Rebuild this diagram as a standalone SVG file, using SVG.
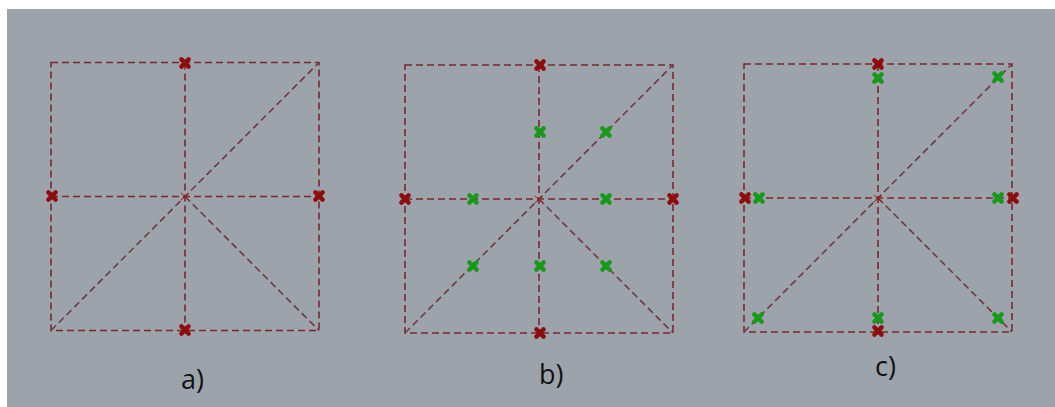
<svg xmlns="http://www.w3.org/2000/svg" width="1055" height="407" viewBox="0 0 1055 407">
<defs>
<style>
.ln{fill:none;stroke:#7a2830;stroke-width:1.6;stroke-dasharray:7 4}
.dg{fill:none;stroke:#6e3a40;stroke-width:1.6;stroke-dasharray:7 4}
.lbl{font-family:"Open Sans","DejaVu Sans",sans-serif;font-size:27px;fill:#111}
</style>
<g id="xr"><path d="M-3.6,-3.6L3.6,3.6M-3.6,3.6L3.6,-3.6" stroke="#8e0c0c" stroke-width="4.4" stroke-linecap="round"/></g>
<g id="xg"><path d="M-3.6,-3.6L3.6,3.6M-3.6,3.6L3.6,-3.6" stroke="#17991a" stroke-width="4.4" stroke-linecap="round"/></g>
</defs>
<rect x="0" y="0" width="1055" height="407" fill="#ffffff"/>
<rect x="7" y="9" width="1048" height="398" fill="#9ca3aa"/>
<g id="connectors">
<rect class="ln" x="51" y="62.5" width="268" height="268"/>
<line class="ln" x1="185" y1="62.5" x2="185" y2="330.5"/>
<line class="ln" x1="51" y1="196.5" x2="319" y2="196.5"/>
<line class="dg" x1="51" y1="330.5" x2="319" y2="62.5"/>
<line class="dg" x1="185" y1="196.5" x2="319" y2="330.5"/>
<rect class="ln" x="405" y="65" width="268" height="268"/>
<line class="ln" x1="539" y1="65" x2="539" y2="333"/>
<line class="ln" x1="405" y1="199" x2="673" y2="199"/>
<line class="dg" x1="405" y1="333" x2="673" y2="65"/>
<line class="dg" x1="539" y1="199" x2="673" y2="333"/>
<rect class="ln" x="744" y="64" width="268" height="268"/>
<line class="ln" x1="878" y1="64" x2="878" y2="332"/>
<line class="ln" x1="744" y1="198" x2="1012" y2="198"/>
<line class="dg" x1="744" y1="332" x2="1012" y2="64"/>
<line class="dg" x1="878" y1="198" x2="1012" y2="332"/>
</g>
<g id="panel-a">
<use href="#xr" x="185" y="63"/>
<use href="#xr" x="52" y="196"/>
<use href="#xr" x="319" y="196"/>
<use href="#xr" x="185" y="330"/>
<path d="M181,193L189,200M181,200L189,193" stroke="#a01818" stroke-width="1"/>
<text class="lbl" x="181" y="389">a)</text>
</g>
<g id="panel-b">
<use href="#xr" x="540" y="65"/>
<use href="#xr" x="405" y="199"/>
<use href="#xr" x="673" y="199"/>
<use href="#xr" x="540" y="333"/>
<use href="#xg" x="540" y="132"/>
<use href="#xg" x="606" y="132"/>
<use href="#xg" x="473" y="199"/>
<use href="#xg" x="606" y="199"/>
<use href="#xg" x="473" y="266"/>
<use href="#xg" x="540" y="266"/>
<use href="#xg" x="606" y="266"/>
<path d="M535,196L543,203M535,203L543,196" stroke="#a01818" stroke-width="1"/>
<text class="lbl" x="539" y="384">b)</text>
</g>
<g id="panel-c">
<use href="#xr" x="878" y="64"/>
<use href="#xr" x="745" y="198"/>
<use href="#xr" x="1013" y="198"/>
<use href="#xr" x="878" y="331"/>
<use href="#xg" x="878" y="78"/>
<use href="#xg" x="998" y="77"/>
<use href="#xg" x="759" y="198"/>
<use href="#xg" x="998" y="198"/>
<use href="#xg" x="758" y="318"/>
<use href="#xg" x="878" y="318"/>
<use href="#xg" x="998" y="318"/>
<path d="M874,195L882,202M874,202L882,195" stroke="#a01818" stroke-width="1"/>
<text class="lbl" x="875" y="376">c)</text>
</g>
</svg>
